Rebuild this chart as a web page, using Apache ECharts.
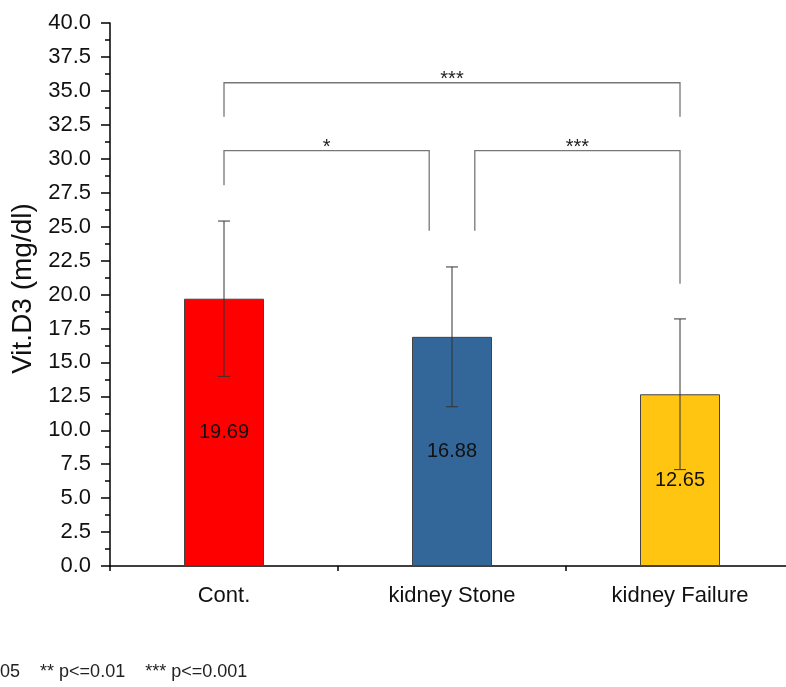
<!DOCTYPE html>
<html>
<head>
<meta charset="utf-8">
<script src="https://cdn.jsdelivr.net/npm/echarts@6/dist/echarts.min.js"></script>
<style>
  html, body { margin: 0; padding: 0; background: #fff; overflow: hidden; }
  /* a bit wider than the window: the original x axis runs off the right edge */
  #chart { width: 800px; height: 687px; }
</style>
</head>
<body>
<div id="chart"></div>
<script>
// group data
const categories = ['Cont.', 'kidney Stone', 'kidney Failure'];
const means = [19.69, 16.88, 12.65];
const errors = [5.72, 5.15, 5.55];
const barColors = ['#FF0000', '#336699', '#FFC511'];

// significance brackets (x in category units, 1 = first group)
const bracketLeftX = [1, 2.1, 1];
const bracketRightX = [1.9, 3, 3];
const bracketTopY = [30.6, 30.6, 35.6];
const bracketLeftEnd = [28.05, 24.7, 33.1];
const bracketRightEnd = [24.7, 20.8, 33.1];
const bracketStars = ['*', '***', '***'];

const yTicks = { min: 0, max: 40, step: 2.5 };
const footnote = '* p<=0.05    ** p<=0.01    *** p<=0.001';

const font = '"Liberation Sans", Arial, sans-serif';
const chart = echarts.init(document.getElementById('chart'));

const errData = means.map((m, i) => [i, m - errors[i], m + errors[i]]);
const bracketData = bracketLeftX.map((x, i) =>
  [x, bracketRightX[i], bracketTopY[i], bracketLeftEnd[i], bracketRightEnd[i], bracketStars[i]]);

const option = {
  animation: false,
  backgroundColor: '#fff',
  textStyle: { fontFamily: font },
  grid: { left: 110, top: 23, width: 684, height: 543 },
  xAxis: [
    {
      type: 'category',
      data: categories,
      position: 'bottom',
      axisLine: { lineStyle: { color: '#000', width: 1.5 } },
      axisTick: { alignWithLabel: true, length: 10, lineStyle: { color: '#000', width: 1.5 } },
      axisLabel: { color: '#111', fontSize: 22, margin: 19, fontFamily: font }
    },
    {
      // only used for the small ticks between groups and the brackets
      type: 'value',
      min: 0.5,
      max: 3.5,
      interval: 1,
      position: 'bottom',
      axisLine: { show: false },
      axisTick: { show: true, length: 5, lineStyle: { color: '#000', width: 1.5 } },
      axisLabel: { show: false },
      splitLine: { show: false }
    }
  ],
  yAxis: {
    type: 'value',
    min: yTicks.min,
    max: yTicks.max,
    interval: yTicks.step,
    name: 'Vit.D3 (mg/dl)',
    nameLocation: 'middle',
    nameGap: 65,
    nameTextStyle: { color: '#111', fontSize: 28, fontFamily: font, padding: [0, 0, 0, 12] },
    axisLine: { show: true, lineStyle: { color: '#000', width: 1.5 } },
    axisTick: { show: true, length: 9, lineStyle: { color: '#000', width: 1.5 } },
    minorTick: { show: true, splitNumber: 2, length: 5, lineStyle: { color: '#000', width: 1.5 } },
    axisLabel: { color: '#111', fontSize: 22, margin: 19, fontFamily: font, formatter: v => v.toFixed(1) },
    splitLine: { show: false }
  },
  series: [
    {
      type: 'bar',
      xAxisIndex: 0,
      barWidth: 80,
      data: means.map((v, i) => ({ value: v, itemStyle: { color: barColors[i] } })),
      itemStyle: { borderColor: '#444', borderWidth: 1 },
      label: {
        show: true,
        position: 'inside',
        color: '#111',
        fontSize: 20,
        fontFamily: font,
        formatter: p => p.value.toFixed(2)
      },
      z: 2
    },
    {
      type: 'custom',
      xAxisIndex: 0,
      data: errData,
      z: 3,
      renderItem: (params, api) => {
        const lo = api.coord([api.value(0), api.value(1)]);
        const hi = api.coord([api.value(0), api.value(2)]);
        const half = 6;
        const style = { stroke: '#333', lineWidth: 1 };
        return {
          type: 'group',
          children: [
            { type: 'line', shape: { x1: hi[0], y1: hi[1], x2: lo[0], y2: lo[1] }, style },
            { type: 'line', shape: { x1: hi[0] - half, y1: hi[1], x2: hi[0] + half, y2: hi[1] }, style },
            { type: 'line', shape: { x1: lo[0] - half, y1: lo[1], x2: lo[0] + half, y2: lo[1] }, style }
          ]
        };
      }
    },
    {
      type: 'custom',
      xAxisIndex: 1,
      data: bracketData,
      z: 3,
      renderItem: (params, api) => {
        const tl = api.coord([api.value(0), api.value(2)]);
        const tr = api.coord([api.value(1), api.value(2)]);
        const bl = api.coord([api.value(0), api.value(3)]);
        const br = api.coord([api.value(1), api.value(4)]);
        const style = { stroke: '#777', lineWidth: 1.3, fill: null };
        return {
          type: 'group',
          children: [
            { type: 'polyline', shape: { points: [bl, tl, tr, br] }, style },
            {
              type: 'text',
              x: (tl[0] + tr[0]) / 2,
              y: tl[1] + 7,
              style: {
                text: bracketStars[params.dataIndex],
                fill: '#222',
                fontSize: 20,
                fontFamily: font,
                align: 'center',
                verticalAlign: 'bottom'
              }
            }
          ]
        };
      }
    }
  ],
  graphic: [
    {
      type: 'text',
      left: -58,
      top: 663,
      style: { text: footnote, fill: '#222', fontSize: 18, fontFamily: font }
    }
  ]
};

chart.setOption(option);
</script>
</body>
</html>
